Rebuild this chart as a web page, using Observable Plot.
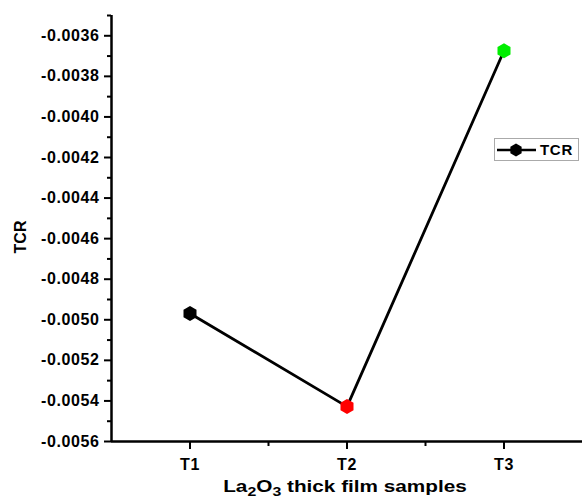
<!DOCTYPE html>
<html>
<head>
<meta charset="utf-8">
<script src="https://cdn.jsdelivr.net/npm/d3@7"></script>
<script src="https://cdn.jsdelivr.net/npm/@observablehq/plot@0.6"></script>
<style>
  html, body { margin: 0; padding: 0; background: #fff; }
  #wrap { position: relative; width: 582px; height: 500px; font-family: "Liberation Sans", Arial, sans-serif; font-weight: bold; color: #000; }
  #ylabel { position: absolute; left: 20.5px; top: 237px; transform: translate(-50%, -50%) rotate(-90deg); font-size: 16px; white-space: nowrap; }
  #xlabel { position: absolute; left: 345px; top: 487px; transform: translate(-50%, -50%) scaleX(1.22); font-size: 17px; white-space: nowrap; }
  #xlabel sub { font-size: 13px; vertical-align: -4px; line-height: 0; }
  #legend { position: absolute; left: 494px; top: 138px; width: 85px; height: 23px; border: 1px solid #aaa; box-sizing: border-box; background: #fff; display: flex; align-items: center; }
  #legend span { font-size: 15px; margin-left: 1px; letter-spacing: 0.7px; }
  #chart svg text { font-weight: bold; letter-spacing: 0.6px; }
</style>
</head>
<body>
<div id="wrap">
  <div id="chart"></div>
  <div id="ylabel">TCR</div>
  <div id="xlabel">La<sub>2</sub>O<sub>3</sub> thick film samples</div>
  <div id="legend"><svg width="44" height="20"><line x1="2" y1="10" x2="41" y2="10" stroke="#000" stroke-width="2.5"/><polygon id="lhex" fill="#000"/></svg><span>TCR</span></div>
</div>
<script>
const categories = ["T1", "T2", "T3"];
const tcrValues = [-0.004969, -0.005428, -0.003674];
const pointColors = ["#000000", "#ff0000", "#00ee00"];
const yMajorTicks = [-0.0056, -0.0054, -0.0052, -0.0050, -0.0048, -0.0046, -0.0044, -0.0042, -0.0040, -0.0038, -0.0036];
const yMinorTicks = [-0.0055, -0.0053, -0.0051, -0.0049, -0.0047, -0.0045, -0.0043, -0.0041, -0.0039, -0.0037, -0.0035];
const xMinorTicks = [1.5, 2.5];

const data = categories.map((c, i) => ({idx: i + 1, cat: c, tcr: tcrValues[i], color: pointColors[i]}));

const chart = Plot.plot({
  width: 582,
  height: 500,
  marginLeft: 111,
  marginRight: 0,
  marginTop: 15,
  marginBottom: 59,
  style: {fontFamily: "Liberation Sans, Arial, sans-serif", fontWeight: "bold", background: "#fff", color: "#000", overflow: "visible"},
  x: {domain: [0.5, 3.5]},
  y: {domain: [-0.0056, -0.0035]},
  marks: [
    Plot.axisY({ticks: yMajorTicks, tickSize: 7, tickPadding: 5, tickFormat: d => d.toFixed(4), label: null, strokeWidth: 2, fontSize: 16, fontWeight: "bold"}),
    Plot.axisY({ticks: yMinorTicks, tickSize: 4, tickFormat: () => "", label: null, strokeWidth: 2}),
    Plot.axisX({ticks: [1, 2, 3], tickSize: 8, tickPadding: 9, tickFormat: d => categories[d - 1], label: null, strokeWidth: 2, fontSize: 16, fontWeight: "bold"}),
    Plot.axisX({ticks: xMinorTicks, tickSize: 5, tickFormat: () => "", label: null, strokeWidth: 2}),
    Plot.ruleX([0.5], {strokeWidth: 2.5}),
    Plot.ruleY([-0.0056], {strokeWidth: 2.5}),
    Plot.line(data, {x: "idx", y: "tcr", stroke: "#000", strokeWidth: 2.8}),
    Plot.dot(data, {x: "idx", y: "tcr", fill: "color", symbol: "hexagon", r: 6.5})
  ]
});
document.getElementById("chart").appendChild(chart);

// legend hexagon
const r = 6.5;
const pts = d3.range(6).map(k => {
  const a = Math.PI / 3 * k - Math.PI / 2;
  return [21 + r * Math.cos(a), 10 + r * Math.sin(a)].join(",");
}).join(" ");
document.getElementById("lhex").setAttribute("points", pts);
</script>
</body>
</html>
